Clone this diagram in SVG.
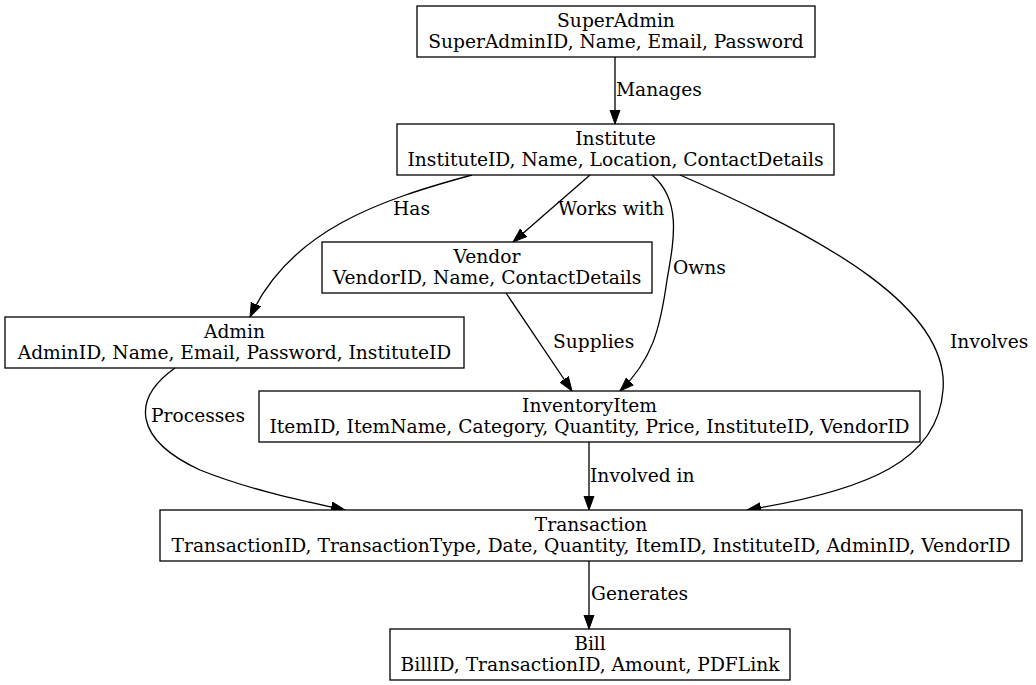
<svg xmlns="http://www.w3.org/2000/svg" width="1036" height="685" viewBox="0 0 1036 685">
<style>
.node rect{fill:#fff;stroke:#000;stroke-width:1.3}
text{font-family:"DejaVu Serif","Liberation Serif",serif;font-size:18.67px;fill:#000}
.node text{text-anchor:middle}
.edges path{fill:none;stroke:#000;stroke-width:1.3}
</style>
<defs>
<marker id="arr" markerUnits="userSpaceOnUse" markerWidth="15" markerHeight="12" viewBox="0 0 15 12" refX="14" refY="6" orient="auto">
<path d="M0,1 L14,6 L0,11 Z" fill="#000" stroke="#000"/>
</marker>
</defs>
<rect width="1036" height="685" fill="#fff"/>
<g class="edges">
<path d="M615,57 L615,124" marker-end="url(#arr)"/>
<path d="M472,175 C380,200 290,230 250,317" marker-end="url(#arr)"/>
<path d="M590,175 L513,242" marker-end="url(#arr)"/>
<path d="M652,175 C682,200 674,240 667,280 C660,330 652,360 620,391" marker-end="url(#arr)"/>
<path d="M506,293 L572,391" marker-end="url(#arr)"/>
<path d="M680,175 C830,240 950,310 943,390 C938,460 870,490 747,510" marker-end="url(#arr)"/>
<path d="M175,368 C130,400 135,440 200,470 C250,490 300,500 345,510" marker-end="url(#arr)"/>
<path d="M589,442 L589,510" marker-end="url(#arr)"/>
<path d="M589,561 L589,629" marker-end="url(#arr)"/>
<text x="616" y="96">Manages</text>
<text x="393" y="215">Has</text>
<text x="558" y="215">Works with</text>
<text x="673" y="274">Owns</text>
<text x="553" y="348">Supplies</text>
<text x="950" y="348">Involves</text>
<text x="151" y="422">Processes</text>
<text x="590" y="482">Involved in</text>
<text x="591" y="600">Generates</text>
</g>
<g class="node" id="SuperAdmin"><rect x="417" y="6" width="398" height="51"/><text x="616" y="27">SuperAdmin</text><text x="616" y="48">SuperAdminID, Name, Email, Password</text></g>
<g class="node" id="Institute"><rect x="397" y="124" width="437" height="51"/><text x="615.5" y="145">Institute</text><text x="615.5" y="166">InstituteID, Name, Location, ContactDetails</text></g>
<g class="node" id="Vendor"><rect x="322" y="242" width="330" height="51"/><text x="487" y="263">Vendor</text><text x="487" y="284">VendorID, Name, ContactDetails</text></g>
<g class="node" id="Admin"><rect x="5" y="317" width="459" height="51"/><text x="234.5" y="338">Admin</text><text x="234.5" y="359">AdminID, Name, Email, Password, InstituteID</text></g>
<g class="node" id="InventoryItem"><rect x="259" y="391" width="661" height="51"/><text x="589.5" y="412">InventoryItem</text><text x="589.5" y="433">ItemID, ItemName, Category, Quantity, Price, InstituteID, VendorID</text></g>
<g class="node" id="Transaction"><rect x="160" y="510" width="862" height="51"/><text x="591" y="531">Transaction</text><text x="591" y="552">TransactionID, TransactionType, Date, Quantity, ItemID, InstituteID, AdminID, VendorID</text></g>
<g class="node" id="Bill"><rect x="390" y="629" width="400" height="51"/><text x="590" y="650">Bill</text><text x="590" y="671">BillID, TransactionID, Amount, PDFLink</text></g>
</svg>
